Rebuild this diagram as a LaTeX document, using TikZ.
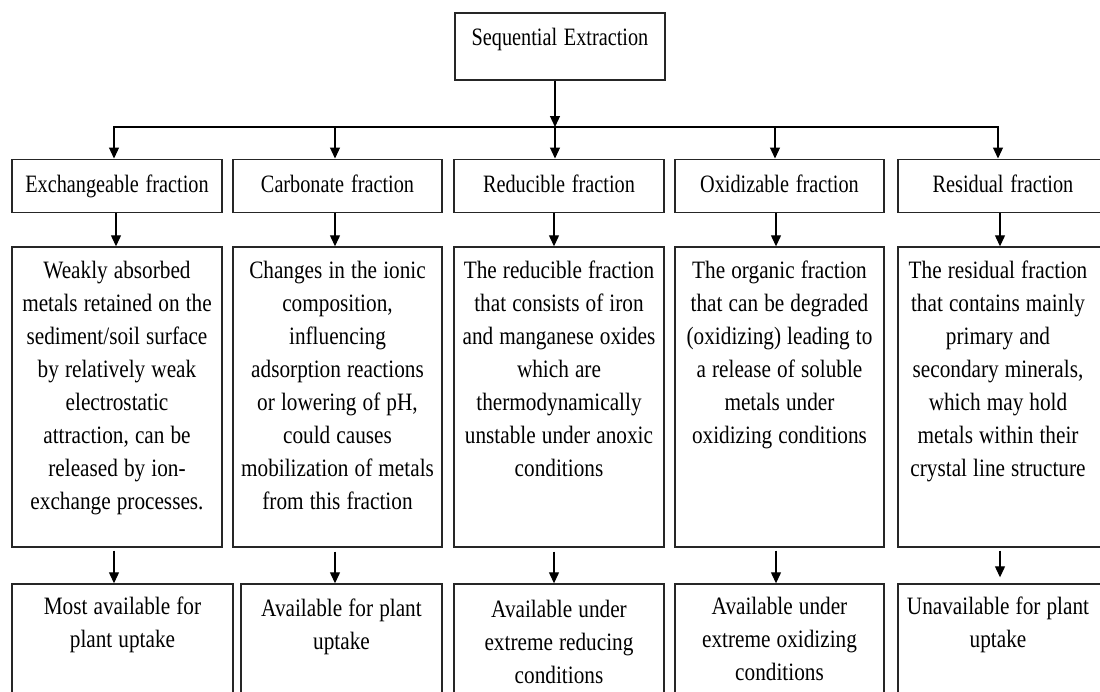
\documentclass[tikz,border=0pt]{standalone}
\usepackage{fontspec}
\setmainfont{Liberation Serif}[FakeStretch=0.81, WordSpace=1.35]
\newfontfamily\bodyfont{Liberation Serif}[FakeStretch=0.85, WordSpace=1.15]
\usetikzlibrary{arrows.meta}
\begin{document}
\begin{tikzpicture}[x=1pt,y=-1pt,
  box/.style={draw=black!85, line width=1.4pt, rectangle, inner sep=0pt,
    font=\fontsize{25}{33}\selectfont},
  txt/.style={font=\bodyfont\fontsize{25}{33}\selectfont, align=flush center,
    text width=#1, anchor=base, inner sep=0pt},
  arr/.style={draw=black, line width=1.2pt, -{Triangle[length=11pt,width=10pt]}},
  bus/.style={draw=black, line width=2pt},
]
\useasboundingbox (0,0) rectangle (1100,691);
\clip (0,0) rectangle (1100,691);

% root
\node[box, minimum width=210pt, minimum height=67pt,
  text height=17pt, text depth=20pt] (root) at (560,46.5) {Sequential Extraction};

% fraction row
\node[box, minimum width=210pt, minimum height=53pt, text height=17pt, text depth=4pt]
  (f1) at (117,185.7) {Exchangeable fraction};
\node[box, minimum width=209pt, minimum height=53pt, text height=17pt, text depth=4pt]
  (f2) at (337.5,185.7) {Carbonate fraction};
\node[box, minimum width=210pt, minimum height=53pt, text height=17pt, text depth=4pt]
  (f3) at (559,185.7) {Reducible fraction};
\node[box, minimum width=209pt, minimum height=53pt, text height=17pt, text depth=4pt]
  (f4) at (779.5,185.7) {Oxidizable fraction};
\node[box, minimum width=210pt, minimum height=53pt, text height=17pt, text depth=4pt]
  (f5) at (1003,185.7) {Residual fraction};

% description row
\node[box, minimum width=210pt, minimum height=300pt] (d1) at (117,397) {};
\node[box, minimum width=209pt, minimum height=300pt] (d2) at (337.5,397) {};
\node[box, minimum width=210pt, minimum height=300pt] (d3) at (559,397) {};
\node[box, minimum width=209pt, minimum height=300pt] (d4) at (779.5,397) {};
\node[box, minimum width=210pt, minimum height=300pt] (d5) at (1003,397) {};

\node[txt=205pt] (dt1) at (117,278) {Weakly absorbed\\ metals retained on the\\ sediment/soil surface\\ by relatively weak\\ electrostatic\\ attraction, can be\\ released by ion-\\ exchange processes.};
\node[txt=205pt] (dt2) at (337.5,278) {Changes in the ionic\\ composition,\\ influencing\\ adsorption reactions\\ or lowering of pH,\\ could causes\\ mobilization of metals\\ from this fraction};
\node[txt=205pt] (dt3) at (559,278) {The reducible fraction\\ that consists of iron\\ and manganese oxides\\ which are\\ thermodynamically\\ unstable under anoxic\\ conditions};
\node[txt=205pt] (dt4) at (779.5,278) {The organic fraction\\ that can be degraded\\ (oxidizing) leading to\\ a release of soluble\\ metals under\\ oxidizing conditions};
\node[txt=205pt] (dt5) at (998,278) {The residual fraction\\ that contains mainly\\ primary and\\ secondary minerals,\\ which may hold\\ metals within their\\ crystal line structure};

% availability row
\node[box, minimum width=221pt, minimum height=136pt] (a1) at (122.5,652) {};
\node[box, minimum width=201pt, minimum height=136pt] (a2) at (341.5,652) {};
\node[box, minimum width=210pt, minimum height=136pt] (a3) at (559,652) {};
\node[box, minimum width=209pt, minimum height=136pt] (a4) at (779.5,652) {};
\node[box, minimum width=210pt, minimum height=136pt] (a5) at (1003,652) {};

\node[txt=210pt] (at1) at (122.5,614) {Most available for\\ plant uptake};
\node[txt=198pt] (at2) at (341.5,616) {Available for plant\\ uptake};
\node[txt=205pt] (at3) at (559,617) {Available under\\ extreme reducing\\ conditions};
\node[txt=205pt] (at4) at (779.5,614) {Available under\\ extreme oxidizing\\ conditions};
\node[txt=205pt] (at5) at (998,614) {Unavailable for plant\\ uptake};

% distribution bar
\coordinate (busL) at (113,127);
\coordinate (busR) at (999,127);
\coordinate (b1) at (114,127);
\coordinate (b2) at (335,127);
\coordinate (b3) at (555,127);
\coordinate (b4) at (775,127);
\coordinate (b5) at (998,127);
\draw[bus] (busL) -- (busR);
\draw[arr] (root.south -| b3) -- (b3);
\foreach \i in {1,...,5} {
  \draw[arr] (b\i) -- (b\i |- f\i.north);
}

% fraction to description
\draw[arr] (f1.south -| b1) ++(2,0) coordinate (s1) -- (s1 |- d1.north);
\draw[arr] (f2.south -| b2) -- (b2 |- d2.north);
\draw[arr] (f3.south -| b3) ++(-1,0) coordinate (s3) -- (s3 |- d3.north);
\draw[arr] (f4.south -| b4) ++(1,0) coordinate (s4) -- (s4 |- d4.north);
\draw[arr] (f5.south -| b5) ++(2,0) coordinate (s5) -- (s5 |- d5.north);

% description to availability
\draw[arr, shorten <=3pt] (d1.south -| b1) -- (b1 |- a1.north);
\draw[arr, shorten <=4pt] (d2.south -| b2) -- (b2 |- a2.north);
\draw[arr, shorten <=4pt] (d3.south -| s3) -- (s3 |- a3.north);
\draw[arr, shorten <=3pt] (d4.south -| s4) -- (s4 |- a4.north);
\draw[arr, shorten <=3pt, shorten >=6pt] (d5.south -| s5) -- (s5 |- a5.north);
\end{tikzpicture}
\end{document}
